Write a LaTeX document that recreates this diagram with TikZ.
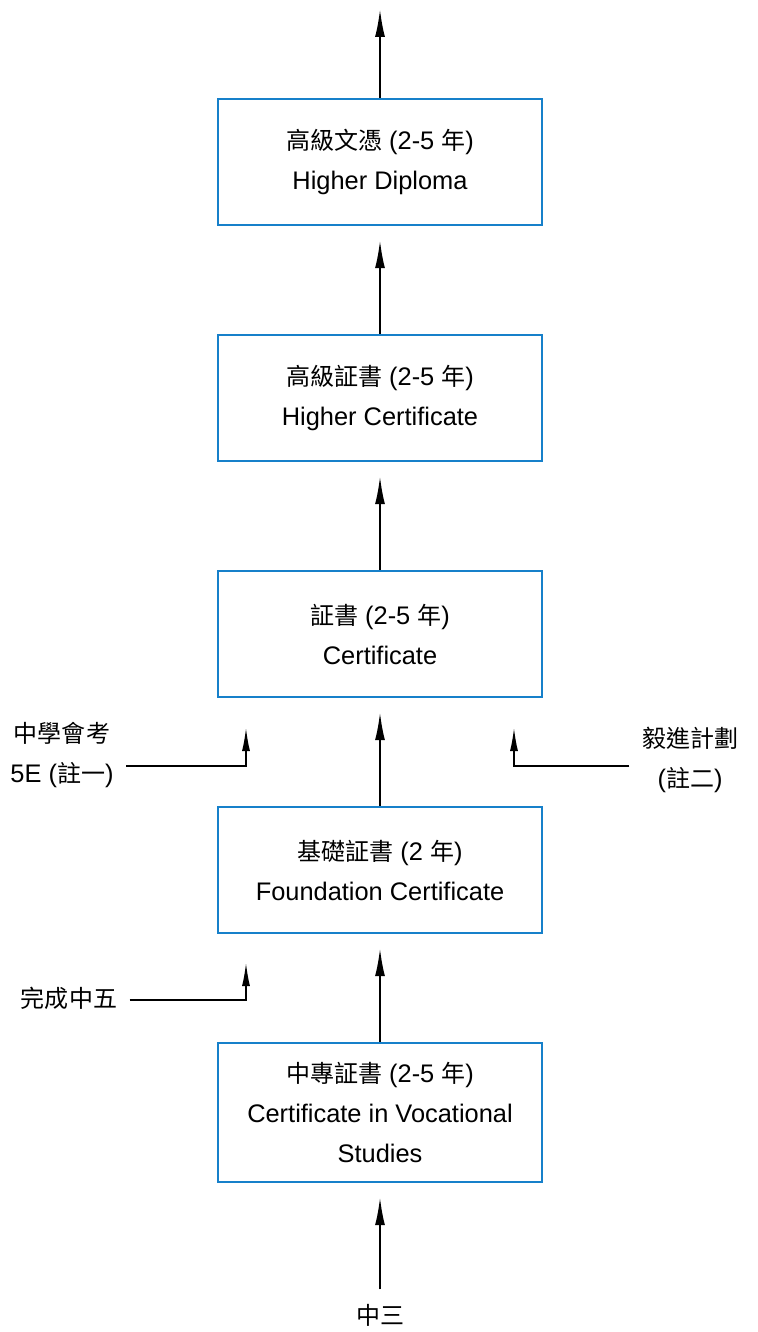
\documentclass[tikz,border=0pt]{standalone}
\usepackage{fontspec}
\setmainfont{Liberation Sans}
\newfontfamily\cjk[Scale=0.945]{Noto Sans CJK TC}
\usepackage{xcolor}
\usepackage{tikz}
\usetikzlibrary{arrows.meta}
\usetikzlibrary{calc}
\usetikzlibrary{positioning}
\definecolor{boxblue}{RGB}{22,128,202}
\newcommand{\zh}[1]{{\cjk #1}}

\begin{document}
\begin{tikzpicture}[->,>={Latex[length=14pt,width=5pt]},node distance=53.8pt,semithick,
  every node/.style={font=\fontsize{12.7}{20}\selectfont}]
 				 \tikzstyle{stage}=[draw=boxblue, line width=1.2pt, minimum width=162pt, minimum height=63pt, align=center, inner sep=0pt]
 				 \tikzstyle{rise}=[line width=1pt]
 				 \tikzstyle{note}=[align=center, inner xsep=6pt, inner ysep=0pt]
 				 \tikzstyle{feed}=[line width=0.7pt, -{Latex[length=11.5pt,width=4pt]}]
 				 \useasboundingbox (0,0) rectangle (378.5pt,-666pt);
 					 \node[stage, minimum height=69.5pt] (C5) at (190pt,-556.25pt) {\zh{中專証書} (2-5 \zh{年})\\Certificate in Vocational\\Studies};
 					 \node[stage] (C4) [above=of C5] {\zh{基礎証書} (2 \zh{年})\\Foundation Certificate};
 					 \node[stage] (C3) [above=of C4] {\zh{証書} (2-5 \zh{年})\\Certificate};
 					 \node[stage] (C2) [above=of C3] {\zh{高級証書} (2-5 \zh{年})\\Higher Certificate};
 					 \node[stage] (C1) [above=of C2] {\zh{高級文憑} (2-5 \zh{年})\\Higher Diploma};
 					 \node[note] (S3) at (190pt,-657.5pt) {\zh{中三}};
 					 \node[note] (L1) at (31pt,-377.5pt) {\zh{中學會考}\\5E (\zh{註一})};
 					 \node[note] (R1) at (345pt,-380pt) {\zh{毅進計劃}\\(\zh{註二})};
 					 \node[note] (F5) at (34.5pt,-499pt) {\zh{完成中五}};
 					 \coordinate (up) at (190pt,-4.5pt);
 					 \coordinate (t1) at (123pt,-364pt);
 					 \coordinate (t2) at (257pt,-364pt);
 					 \coordinate (t3) at (123pt,-481.5pt);
				\path[rise]
				(C1.north) edge (up)
				(C2) edge [shorten >=7pt] (C1)
				(C3) edge [shorten >=7pt] (C2)
				(C4) edge [shorten >=7pt] (C3)
				(C5) edge [shorten >=7pt] (C4)
				(S3) edge [shorten <=7pt, shorten >=7pt] (C5);
				\draw[feed] ([yshift=-5.5pt]L1.east) -| (t1);
				\draw[feed] ([yshift=-3pt]R1.west) -| (t2);
				\draw[feed] ([yshift=-1pt]F5.east) -| (t3);
\end{tikzpicture}
\end{document}
